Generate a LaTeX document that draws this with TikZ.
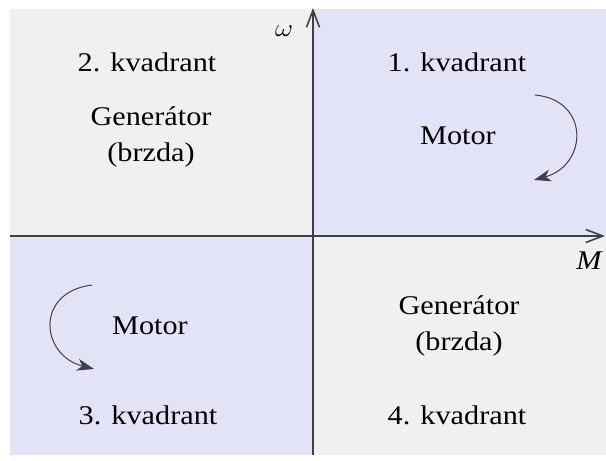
\documentclass[tikz,border=0pt]{standalone}
\usepackage{fontspec}
\setmainfont{Liberation Serif}
\usetikzlibrary{arrows.meta}
\definecolor{qgrey}{HTML}{F0F0F0}
\definecolor{qblue}{HTML}{E3E3F8}
\definecolor{axisc}{HTML}{404040}
\begin{document}
\begin{tikzpicture}[x=1pt,y=-1pt,
  lbl/.style={font=\rmfamily\fontsize{27}{36}\selectfont, align=center, inner sep=0pt, xscale=1.12, transform shape},
  axis/.style={draw=axisc, line width=1.4pt, -{Straight Barb[length=17pt,width=13pt,line width=1.6pt]}},
  turn/.style={draw=axisc, line width=1pt, -{Stealth[length=17pt,width=12pt,inset=5pt]}}]
\useasboundingbox (0,0) rectangle (606,461);
\fill[white] (0,0) rectangle (606,461);
\fill[qgrey] (10,9) rectangle (313,236);
\fill[qblue] (313,9) rectangle (606,236);
\fill[qblue] (10,236) rectangle (313,455);
\fill[qgrey] (313,236) rectangle (606,455);
% axes
\coordinate (xs) at (10,236);
\coordinate (xe) at (605,236);
\coordinate (ys) at (313,455);
\coordinate (ye) at (313,8);
\draw[axis] (xs) -- (xe);
\draw[axis] (ys) -- (ye);
\node[lbl, font=\fontsize{30}{32}\selectfont] (om) at (284,31) {$\omega$};
\node[lbl, font=\rmfamily\itshape\fontsize{27}{30}\selectfont] (mm) at (589,261) {M};
% labels
\node[lbl] (q2) at (147,62) {2. kvadrant};
\node[lbl] (g2) at (151,137) {Generátor\\(brzda)};
\node[lbl] (q1) at (457,62) {1. kvadrant};
\node[lbl] (m1) at (458,136) {Motor};
\node[lbl] (m3) at (150,326) {Motor};
\node[lbl] (g4) at (459,326) {Generátor\\(brzda)};
\node[lbl] (q3) at (148,415) {3. kvadrant};
\node[lbl] (q4) at (457,415) {4. kvadrant};
% rotation arrows
\coordinate (a1s) at (535,95);
\coordinate (a1e) at (534,180);
\draw[turn] (a1s) .. controls (590,100) and (588,165) .. (a1e);
\coordinate (a3s) at (92,285);
\coordinate (a3e) at (94,369);
\draw[turn] (a3s) .. controls (35,292) and (40,355) .. (a3e);
\end{tikzpicture}
\end{document}
